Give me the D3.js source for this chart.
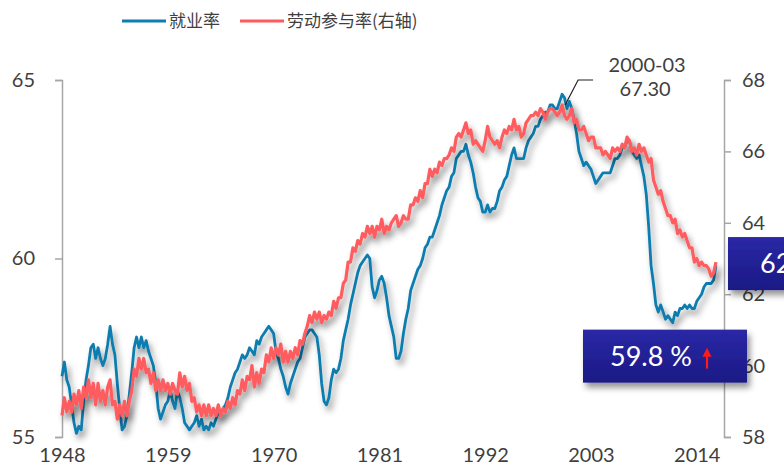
<!DOCTYPE html>
<html>
<head>
<meta charset="utf-8">
<script src="https://cdn.jsdelivr.net/npm/d3@7"></script>
<style>
  body { margin: 0; background: #fff; }
  svg { display: block; font-family: Lato, "Noto Sans CJK SC", sans-serif; }
</style>
</head>
<body>
<svg id="chart"></svg>
<script>
// quarterly values, first point 1948 Q1, last point 2016-02
const startYear = 1948;
const employment = [
  56.7, 57.1, 56.6, 56.4, 55.9, 55.4, 55.1, 55.3, 55.2, 56.0, 56.6, 57.0,
  57.5, 57.6, 57.2, 57.5, 57.2, 57.0, 57.2, 57.6, 58.1, 57.6, 57.3, 56.5,
  55.8, 55.2, 55.3, 55.6, 56.2, 56.8, 57.5, 57.8, 57.5, 57.8, 57.5, 57.7,
  57.4, 57.2, 57.0, 56.5, 55.8, 55.5, 55.7, 55.9, 56.0, 56.3, 56.0, 55.8,
  56.3, 56.1, 55.8, 55.4, 55.3, 55.2, 55.3, 55.4, 55.6, 55.3, 55.5, 55.2,
  55.3, 55.2, 55.4, 55.3, 55.5, 55.7, 55.6, 55.8, 55.9, 56.1, 56.4, 56.6,
  56.8, 56.9, 57.1, 57.3, 57.2, 57.3, 57.5, 57.4, 57.3, 57.7, 57.6, 57.8,
  57.9, 58.0, 58.1, 58.0, 57.9, 57.4, 57.2, 56.9, 56.7, 56.4, 56.2, 56.5,
  56.7, 56.9, 57.1, 57.2, 57.5, 57.8, 57.9, 58.0, 58.0, 57.9, 57.8, 57.3,
  56.5, 56.0, 55.9, 56.1, 56.6, 56.9, 56.8, 56.9, 57.2, 57.7, 58.0, 58.3,
  58.7, 59.0, 59.3, 59.6, 59.8, 59.9, 60.0, 60.1, 60.0, 59.2, 58.9, 59.1,
  59.4, 59.5, 59.3, 58.9, 58.4, 58.1, 57.8, 57.2, 57.2, 57.4, 57.9, 58.3,
  58.6, 59.1, 59.3, 59.5, 59.7, 59.8, 60.0, 60.3, 60.4, 60.6, 60.6, 60.8,
  61.0, 61.2, 61.5, 61.7, 61.9, 62.0, 62.3, 62.4, 62.8, 62.9, 63.0, 63.0,
  63.2, 62.9, 62.7, 62.4, 62.0, 61.7, 61.6, 61.3, 61.3, 61.5, 61.3, 61.4,
  61.4, 61.6, 61.9, 62.0, 62.2, 62.3, 62.6, 62.9, 63.1, 62.8, 62.8, 62.8,
  62.8, 63.1, 63.3, 63.4, 63.5, 63.7, 63.7, 63.9, 64.0, 64.1, 64.1, 64.3,
  64.3, 64.2, 64.2, 64.4, 64.6, 64.5, 64.2, 64.4, 64.2, 63.9, 63.5, 63.0,
  62.8, 62.6, 62.7, 62.6, 62.5, 62.3, 62.1, 62.2, 62.3, 62.4, 62.4, 62.4,
  62.4, 62.6, 62.8, 62.8, 62.9, 63.1, 63.1, 63.3, 63.3, 63.0, 62.9, 62.8,
  62.9, 62.6, 62.3, 61.8, 60.9, 59.8, 59.3, 58.7, 58.5, 58.7, 58.5, 58.3,
  58.4, 58.3, 58.2, 58.5, 58.4, 58.6, 58.6, 58.7, 58.6, 58.7, 58.6, 58.6,
  58.8, 58.9, 59.0, 59.2, 59.3, 59.3, 59.3, 59.4, 59.8
];
const participation = [
  58.6, 59.1, 58.7, 59.0, 58.7, 59.2, 58.9, 59.3, 58.8, 59.4, 59.1, 59.6,
  59.1, 59.5, 58.9, 59.5, 59.0, 59.3, 58.9, 59.4, 59.6, 58.9, 59.0, 58.5,
  58.9, 58.6, 59.0, 58.6, 59.0, 59.3, 59.9, 59.7, 60.2, 59.9, 60.2, 59.8,
  59.9, 59.5, 59.8, 59.3, 59.6, 59.3, 59.6, 59.3, 59.5, 59.2, 59.5, 59.3,
  59.2, 59.8, 59.4, 59.7, 59.3, 59.5, 59.0, 59.1, 58.7, 58.9, 58.6, 58.9,
  58.6, 58.9, 58.6, 58.8, 58.6, 58.9, 58.6, 58.8, 58.7, 59.0, 58.8, 59.1,
  58.9, 59.3, 59.2, 59.6, 59.3, 59.7, 59.6, 60.0, 59.4, 59.8, 59.5, 59.9,
  59.8, 60.3, 60.1, 60.5, 60.2, 60.5, 60.3, 60.6, 60.1, 60.4, 60.1, 60.4,
  60.2, 60.5, 60.3, 60.7, 60.6, 60.9, 61.1, 61.4, 61.2, 61.5, 61.3, 61.5,
  61.2, 61.4, 61.3, 61.5, 61.4, 61.8, 61.6, 61.9, 61.9, 62.3, 62.4, 62.9,
  62.9, 63.3, 63.2, 63.5, 63.4, 63.7, 63.6, 63.9, 63.7, 63.9, 63.6, 63.9,
  63.8, 64.1, 63.7, 63.9, 63.8, 64.0, 64.1, 64.2, 63.9, 64.0, 64.2, 64.1,
  64.1, 64.5, 64.5, 64.7, 64.6, 64.9, 64.7, 65.1, 65.1, 65.5, 65.3, 65.5,
  65.4, 65.7, 65.6, 65.8, 65.8, 65.9, 66.1, 66.0, 66.4, 66.5, 66.4, 66.6,
  66.8, 66.5, 66.6, 66.2, 66.3, 66.2, 66.1, 66.0, 66.3, 66.7, 66.4, 66.3,
  66.2, 66.3, 66.1, 66.4, 66.6, 66.5, 66.7, 66.6, 66.9, 66.6, 66.7, 66.4,
  66.5, 66.8, 66.9, 67.0, 67.0, 67.1, 67.0, 67.2, 67.1, 66.9, 67.1, 67.2,
  67.2, 67.1, 67.0, 67.1, 67.3, 67.0, 66.9, 67.0, 67.2, 66.8, 66.9, 66.6,
  66.6, 66.7, 66.5, 66.3, 66.4, 66.4, 66.1, 66.1, 66.1, 65.9, 66.0, 65.9,
  65.8, 66.1, 66.0, 66.1, 66.0, 66.2, 66.1, 66.4, 66.3, 66.0, 66.1, 65.9,
  66.2, 66.0, 66.1, 65.9, 65.7, 65.8, 65.2, 65.0, 64.8, 64.9, 64.6, 64.4,
  64.2, 64.2, 64.0, 64.1, 63.7, 63.8, 63.6, 63.7, 63.5, 63.3, 63.3, 62.9,
  63.0, 62.8, 62.9, 62.8, 62.8, 62.7, 62.5, 62.6, 62.9
];
const yearTicks = [1948, 1959, 1970, 1981, 1992, 2003, 2014];
const leftTicks = [55, 60, 65];
const rightTicks = [58, 60, 62, 64, 66, 68];
const seriesNames = ["就业率", "劳动参与率(右轴)"];
const peakLabel = ["2000-03", "67.30"];
const lastParticipation = "62.9 %";
const lastEmployment = "59.8 %";

const width = 784;
const height = 471;
const blue = "#0e7db0";
const red = "#ff5b5f";
const axisColor = "#a6a6a6";
const textColor = "#3f3f3f";

const svg = d3.select("#chart").attr("width", width).attr("height", height);

const defs = svg.append("defs");
const shadow = defs.append("filter").attr("id", "shadow")
  .attr("x", "-10%").attr("y", "-10%").attr("width", "130%").attr("height", "140%");
shadow.append("feDropShadow")
  .attr("dx", 3).attr("dy", 5).attr("stdDeviation", 3.2)
  .attr("flood-color", "#000").attr("flood-opacity", 0.42);

const boxGrad = defs.append("linearGradient").attr("id", "boxGrad")
  .attr("x1", 0).attr("y1", 0).attr("x2", 0).attr("y2", 1);
boxGrad.append("stop").attr("offset", "0%").attr("stop-color", "#2a28a6");
boxGrad.append("stop").attr("offset", "100%").attr("stop-color", "#1b1985");

const x = d3.scaleLinear().domain([1948, 2016]).range([62, 716]);
const yLeft = d3.scaleLinear().domain([55, 65]).range([437, 80]);
const yRight = d3.scaleLinear().domain([58, 68]).range([437, 80]);

const dateOf = (i) => startYear + i / 4;

// axes
const leftAxis = svg.append("g")
  .attr("transform", "translate(62,0)")
  .call(d3.axisLeft(yLeft).tickValues(leftTicks).tickSize(7).tickPadding(20));
const rightAxis = svg.append("g")
  .attr("transform", "translate(724,0)")
  .call(d3.axisRight(yRight).tickValues(rightTicks).tickSize(7).tickPadding(11));
const bottomAxis = svg.append("g")
  .attr("transform", "translate(0,448)")
  .call(d3.axisBottom(x).tickValues(yearTicks).tickFormat(d3.format("d")).tickSize(0).tickPadding(0));
bottomAxis.select(".domain").remove();

[leftAxis, rightAxis].forEach((g) => {
  g.select(".domain").attr("stroke", axisColor).attr("stroke-width", 1.5);
  g.selectAll(".tick line").attr("stroke", axisColor).attr("stroke-width", 1.5);
});
[leftAxis, rightAxis, bottomAxis].forEach((g) => {
  g.selectAll(".tick text").attr("fill", textColor).style("font-size", "20px")
    .style("font-family", "Lato, sans-serif");
});
bottomAxis.selectAll(".tick text").attr("dy", "0.71em");

// lines
const empLine = d3.line()
  .x((d, i) => x(dateOf(i)))
  .y((d) => yLeft(d));
const lfpLine = d3.line()
  .x((d, i) => x(dateOf(i)))
  .y((d) => yRight(d));

svg.append("path")
  .attr("d", empLine(employment))
  .attr("fill", "none")
  .attr("stroke", blue)
  .attr("stroke-width", 2.8)
  .attr("stroke-linejoin", "round")
  .attr("filter", "url(#shadow)");

svg.append("path")
  .attr("d", lfpLine(participation))
  .attr("fill", "none")
  .attr("stroke", red)
  .attr("stroke-width", 3.2)
  .attr("stroke-linejoin", "round")
  .attr("filter", "url(#shadow)");

// peak annotation
const peakIndex = d3.maxIndex(participation);
const px = x(dateOf(peakIndex)) + 3;
const py = yRight(participation[peakIndex]);
svg.append("path")
  .attr("d", `M${px},${py} L${px + 13},${py - 25} L${px + 28},${py - 25}`)
  .attr("fill", "none")
  .attr("stroke", "#222")
  .attr("stroke-width", 1.2);
svg.append("text")
  .attr("x", px + 82).attr("y", py - 33)
  .attr("text-anchor", "middle")
  .attr("fill", textColor)
  .style("font-size", "20px")
  .text(peakLabel[0]);
svg.append("text")
  .attr("x", px + 80).attr("y", py - 9)
  .attr("text-anchor", "middle")
  .attr("fill", textColor)
  .style("font-size", "20px")
  .text(peakLabel[1]);

// value boxes
const lastLfpY = yRight(participation[participation.length - 1]);
const lastEmpY = yLeft(employment[employment.length - 1]);

const box1 = svg.append("g");
box1.append("rect")
  .attr("x", 728).attr("y", lastLfpY - 25)
  .attr("width", 90).attr("height", 53)
  .attr("fill", "url(#boxGrad)")
  .attr("filter", "url(#shadow)");
box1.append("text")
  .attr("x", 760).attr("y", lastLfpY + 11)
  .attr("fill", "#fff")
  .style("font-size", "27px")
  .text(lastParticipation);

const box2 = svg.append("g");
box2.append("rect")
  .attr("x", 583).attr("y", lastEmpY + 64)
  .attr("width", 164).attr("height", 53)
  .attr("fill", "url(#boxGrad)")
  .attr("filter", "url(#shadow)");
box2.append("text")
  .attr("x", 610).attr("y", lastEmpY + 100)
  .attr("fill", "#fff")
  .style("font-size", "27px")
  .text(lastEmployment);
box2.append("path")
  .attr("d", `M707,${lastEmpY + 103} L707,${lastEmpY + 89}`)
  .attr("stroke", "#ff1a1a")
  .attr("stroke-width", 2.2);
box2.append("path")
  .attr("d", `M702.5,${lastEmpY + 91} L707,${lastEmpY + 82} L711.5,${lastEmpY + 91} Z`)
  .attr("fill", "#ff1a1a");

// legend
const legend = svg.append("g").style("font-family", "'Noto Sans CJK SC', sans-serif");
const legendItems = [
  { name: seriesNames[0], color: blue, x: 122 },
  { name: seriesNames[1], color: red, x: 240 },
];
legendItems.forEach((d) => {
  legend.append("line")
    .attr("x1", d.x).attr("x2", d.x + 44)
    .attr("y1", 21).attr("y2", 21)
    .attr("stroke", d.color).attr("stroke-width", 3);
  legend.append("text")
    .attr("x", d.x + 47).attr("y", 27)
    .attr("fill", textColor)
    .style("font-size", "17px")
    .text(d.name);
});
</script>
</body>
</html>
